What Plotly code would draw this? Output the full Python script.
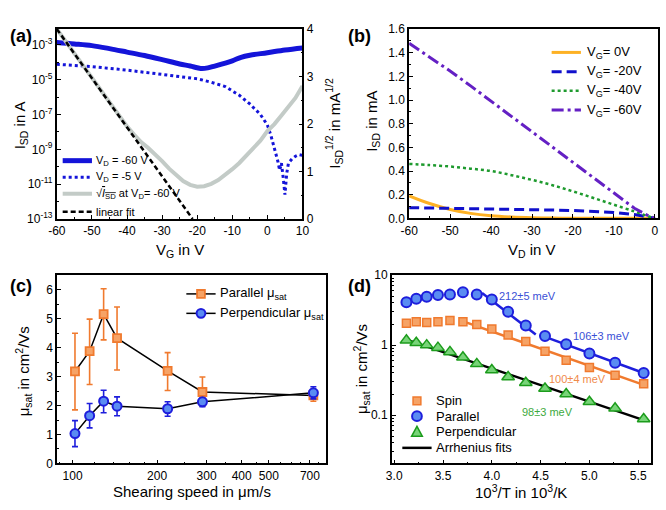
import math
import plotly.graph_objects as go

W, H = 666, 510
FONT = "Liberation Sans, Arial, sans-serif"

# ---------------- (a) transfer curves ----------------
vg_band = [-60, -55, -50, -45, -40, -35, -30, -25, -22, -20, -19, -17, -15, -12, -10, -7.5, -5, 0, 5, 10]
isd_band = [1.35e-3, 1.12e-3, 8.9e-4, 6.0e-4, 3.8e-4, 2.4e-4, 1.4e-4, 7.9e-5, 6.0e-5, 4.8e-5,
            4.4e-5, 4.7e-5, 6.0e-5, 8.9e-5, 1.2e-4, 1.9e-4, 2.5e-4, 3.5e-4, 5.0e-4, 6.6e-4]
vg_dot = [-60, -50, -40, -33, -26, -20, -16, -12, -8, -5, -2, 0, 1, 2, 3, 3.5, 4, 4.5, 5, 5.5, 6, 7, 8, 9, 10]
isd_dot = [7.6e-5, 5.6e-5, 3.5e-5, 2.4e-5, 1.66e-5, 1.12e-5, 7.1e-6, 4.0e-6, 1.26e-6, 4.0e-7, 1.0e-7,
           2.5e-8, 6.3e-9, 1.26e-9, 2.0e-10, 6.3e-11, 1.6e-10, 2.5e-11, 2.5e-12, 4.0e-11, 1.6e-10,
           2.8e-10, 4.0e-10, 5.0e-10, 4.5e-10]
vg_sqrt = [-60, -55, -50, -45, -42, -40, -38, -36, -34, -32, -30, -28, -26, -24, -22, -20, -18, -16,
           -14, -12, -10, -8, -6, -4, -2, 0, 2, 4, 6, 8, 10]
sqrt_isd = [4.0, 3.48, 2.97, 2.45, 2.15, 1.95, 1.78, 1.62, 1.5, 1.37, 1.22, 1.06, 0.92, 0.8, 0.72,
            0.68, 0.69, 0.74, 0.82, 0.93, 1.05, 1.18, 1.33, 1.48, 1.65, 1.85, 2.0, 2.18, 2.35, 2.55, 2.8]
vg_fit = [-60, -21.3]
sqrt_fit = [4.0, 0.0]

# ---------------- (b) output curves ----------------
vd = [-60, -55, -50, -45, -40, -35, -30, -25, -20, -15, -10, -5, -2, 0]
id_vg0 = [0.19, 0.125, 0.075, 0.042, 0.022, 0.011, 0.005, 0.002, 0.001, 0.0005, 0.0003, 0.0001, 0, 0]
id_vg20 = [0.09, 0.088, 0.085, 0.082, 0.079, 0.076, 0.073, 0.07, 0.066, 0.06, 0.05, 0.032, 0.013, 0]
id_vg40 = [0.46, 0.45, 0.438, 0.42, 0.40, 0.365, 0.325, 0.28, 0.228, 0.172, 0.115, 0.058, 0.022, 0]
id_vg60 = [1.48, 1.365, 1.245, 1.12, 0.99, 0.86, 0.73, 0.6, 0.47, 0.34, 0.21, 0.085, 0.03, 0]

# ---------------- (c) mobility vs shearing speed ----------------
speed = [102, 115, 129, 144, 218, 290, 720]
mu_par = [3.18, 3.88, 5.16, 4.33, 3.2, 2.47, 2.35]
mu_par_up = [1.32, 1.11, 0.88, 1.08, 0.63, 0.52, 0.2]
mu_par_dn = [1.33, 1.15, 0.89, 1.1, 0.68, 0.49, 0.2]
mu_perp = [1.03, 1.65, 2.15, 1.98, 1.89, 2.13, 2.44]
mu_perp_up = [0.45, 0.42, 0.38, 0.32, 0.24, 0.14, 0.21]
mu_perp_dn = [0.45, 0.42, 0.4, 0.33, 0.26, 0.17, 0.21]

# ---------------- (d) Arrhenius ----------------
inv_t = [3.125, 3.226, 3.333, 3.448, 3.571, 3.704, 3.846, 4.0, 4.167, 4.348, 4.545, 4.762, 5.0, 5.263, 5.556]
mu_spin = [2.05, 2.15, 2.1, 2.15, 2.25, 2.15, 1.97, 1.7, 1.4, 1.13, 0.82, 0.61, 0.48, 0.37, 0.28]
mu_parT = [4.1, 4.6, 4.9, 5.2, 5.3, 5.7, 5.3, 4.5, 3.0, 1.9, 1.35, 1.03, 0.76, 0.56, 0.40]
mu_perpT = [1.17, 1.08, 1.0, 0.92, 0.8, 0.67, 0.54, 0.44, 0.35, 0.29, 0.24, 0.2, 0.155, 0.125, 0.088]
fit_par1_x, fit_par1_y = [3.90, 4.45], [5.55, 1.42]
fit_par2_x, fit_par2_y = [4.49, 5.556], [1.40, 0.40]
fit_spin_x, fit_spin_y = [3.70, 5.556], [2.2, 0.27]
fit_perp_x, fit_perp_y = [3.125, 5.556], [1.2, 0.085]
ea_labels = ["212±5 meV", "106±3 meV", "100±4 meV", "98±3 meV"]
ea_x = [4.37, 5.12, 4.88, 4.57]
ea_y = [5.0, 1.35, 0.332, 0.111]

BLUE = "#1414D9"
GRAY = "#C3CBC7"
ORANGE_B = "#FDB124"
BLUE_B = "#1010CC"
GREEN_B = "#1E9A2E"
PURPLE_B = "#6420C4"
OR = "#F07A2E"
OR_FILL = "#F6A366"
BL_EDGE = "#1E1EDC"
BL_FILL = "#5A8CF2"
GR_EDGE = "#1C9C1C"
GR_FILL = "#78D478"

fig = go.Figure()

# (a)
fig.add_trace(go.Scatter(x=vg_sqrt, y=sqrt_isd, xaxis="x", yaxis="y2", mode="lines",
                         line=dict(color=GRAY, width=4), name="sqrt(I_SD) at V_D=-60 V"))
fig.add_trace(go.Scatter(x=vg_fit, y=sqrt_fit, xaxis="x", yaxis="y2", mode="lines",
                         line=dict(color="black", width=2.5, dash="5px,3px"), name="linear fit"))
fig.add_trace(go.Scatter(x=vg_dot, y=isd_dot, xaxis="x", yaxis="y", mode="lines",
                         line=dict(color=BLUE, width=3, dash="dot"), name="V_D = -5 V"))
fig.add_trace(go.Scatter(x=vg_band, y=isd_band, xaxis="x", yaxis="y", mode="lines",
                         line=dict(color=BLUE, width=5, shape="spline"), name="V_D = -60 V"))

# (b)
fig.add_trace(go.Scatter(x=vd, y=id_vg0, xaxis="x2", yaxis="y3", mode="lines",
                         line=dict(color=ORANGE_B, width=3, shape="spline"), name="V_G = 0V"))
fig.add_trace(go.Scatter(x=vd, y=id_vg20, xaxis="x2", yaxis="y3", mode="lines",
                         line=dict(color=BLUE_B, width=3, dash="10px,5px"), name="V_G = -20V"))
fig.add_trace(go.Scatter(x=vd, y=id_vg40, xaxis="x2", yaxis="y3", mode="lines",
                         line=dict(color=GREEN_B, width=2.5, dash="dot", shape="spline"), name="V_G = -40V"))
fig.add_trace(go.Scatter(x=vd, y=id_vg60, xaxis="x2", yaxis="y3", mode="lines",
                         line=dict(color=PURPLE_B, width=3, dash="12px,4px,3px,4px"), name="V_G = -60V"))

# (c)
fig.add_trace(go.Scatter(x=speed, y=mu_par, xaxis="x3", yaxis="y4", mode="lines+markers",
                         line=dict(color="black", width=1.5),
                         marker=dict(symbol="square", size=8, color=OR_FILL, line=dict(color=OR, width=1.8)),
                         error_y=dict(type="data", array=mu_par_up, arrayminus=mu_par_dn,
                                      color=OR, thickness=1.6, width=3),
                         name="Parallel"))
fig.add_trace(go.Scatter(x=speed, y=mu_perp, xaxis="x3", yaxis="y4", mode="lines+markers",
                         line=dict(color="black", width=1.5),
                         marker=dict(symbol="circle", size=9, color=BL_FILL, line=dict(color=BL_EDGE, width=2)),
                         error_y=dict(type="data", array=mu_perp_up, arrayminus=mu_perp_dn,
                                      color=BL_EDGE, thickness=1.6, width=3),
                         name="Perpendicular"))

# (d)
for fx, fy, c in [(fit_par1_x, fit_par1_y, BL_EDGE), (fit_par2_x, fit_par2_y, BL_EDGE),
                  (fit_spin_x, fit_spin_y, OR), (fit_perp_x, fit_perp_y, "black")]:
    fig.add_trace(go.Scatter(x=fx, y=fy, xaxis="x4", yaxis="y5", mode="lines",
                             line=dict(color=c, width=2.5), name="Arrhenius fit"))
fig.add_trace(go.Scatter(x=inv_t, y=mu_spin, xaxis="x4", yaxis="y5", mode="markers",
                         marker=dict(symbol="square", size=8, color=OR_FILL, line=dict(color=OR, width=1.5)),
                         name="Spin"))
fig.add_trace(go.Scatter(x=inv_t, y=mu_parT, xaxis="x4", yaxis="y5", mode="markers",
                         marker=dict(symbol="circle", size=10, color=BL_FILL, line=dict(color=BL_EDGE, width=2)),
                         name="Parallel"))
fig.add_trace(go.Scatter(x=inv_t, y=mu_perpT, xaxis="x4", yaxis="y5", mode="markers",
                         marker=dict(symbol="triangle-up", size=11, color=GR_FILL, line=dict(color=GR_EDGE, width=1.5)),
                         name="Perpendicular"))


def px_x(p):
    return p / W


def px_y(p):
    return 1 - p / H


tickfont = dict(family=FONT, size=12, color="black")
ax_common = dict(showline=True, linecolor="black", linewidth=1.8, ticks="inside", ticklen=4,
                 tickwidth=1.3, tickcolor="black", showgrid=False, zeroline=False, tickfont=tickfont)

decades_a = [1e-13, 1e-11, 1e-9, 1e-7, 1e-5, 1e-3]
decades_a_txt = ["10<sup>-13</sup>", "10<sup>-11</sup>", "10<sup>-9</sup>", "10<sup>-7</sup>",
                 "10<sup>-5</sup>", "10<sup>-3</sup>"]
minor_a = [1e-12, 1e-10, 1e-8, 1e-6, 1e-4]

layout = dict(
    width=W, height=H, margin=dict(l=0, r=0, t=0, b=0),
    paper_bgcolor="white", plot_bgcolor="white", showlegend=False,
    font=dict(family=FONT, size=12, color="black"),
    xaxis=dict(ax_common, domain=[px_x(49), px_x(300.7)], range=[-60, 10], anchor="y",
               mirror=True, tickvals=[-60, -50, -40, -30, -20, -10, 0, 10],
               ticktext=["-60", "-50", "-40", "-30", "-20", "-10", "0", "10"],
               minor=dict(ticks="inside", ticklen=2, dtick=5, tickcolor="black")),
    yaxis=dict(ax_common, domain=[px_y(218), px_y(22.7)], type="log", range=[-13, -2.1], anchor="x",
               mirror=True, tickvals=decades_a, ticktext=decades_a_txt,
               minor=dict(ticks="inside", ticklen=2, tickvals=minor_a, tickcolor="black")),
    yaxis2=dict(ax_common, overlaying="y", side="right", anchor="x", range=[0, 4],
                tickvals=[0, 1, 2, 3, 4], minor=dict(ticks="inside", ticklen=2, dtick=0.5, tickcolor="black")),
    xaxis2=dict(ax_common, domain=[px_x(410), px_x(664.5)], range=[-60, 0.65], anchor="y3",
                mirror=True, tickvals=[-60, -50, -40, -30, -20, -10, 0],
                ticktext=["-60", "-50", "-40", "-30", "-20", "-10", "0"],
                minor=dict(ticks="inside", ticklen=2, dtick=5, tickcolor="black")),
    yaxis3=dict(ax_common, domain=[px_y(217.3), px_y(22.7)], range=[0, 1.6], anchor="x2",
                mirror=True, dtick=0.2, tickformat=".1f",
                minor=dict(ticks="inside", ticklen=2, dtick=0.1, tickcolor="black")),
    xaxis3=dict(ax_common, domain=[px_x(49.3), px_x(325)], type="log", range=[1.945, 2.903],
                anchor="y4", mirror=True, tickvals=[100, 200, 300, 400, 500, 700],
                minor=dict(ticks="inside", ticklen=2, tickcolor="black",
                           tickvals=[90, 120, 140, 160, 180, 250, 350, 450, 550, 600, 650, 750, 800])),
    yaxis4=dict(ax_common, domain=[px_y(469.3), px_y(276)], range=[0, 6.5], anchor="x3",
                mirror=True, dtick=1, minor=dict(ticks="inside", ticklen=2, dtick=0.5, tickcolor="black")),
    xaxis4=dict(ax_common, domain=[px_x(392.3), px_x(658)], range=[2.976, 5.633], anchor="y5",
                mirror=True, tickvals=[3.0, 3.5, 4.0, 4.5, 5.0, 5.5], tickformat=".1f",
                minor=dict(ticks="inside", ticklen=2, dtick=0.25, tickcolor="black")),
    yaxis5=dict(ax_common, domain=[px_y(469.3), px_y(275.7)], type="log", range=[-1.69, 1],
                anchor="x4", mirror=True, tickvals=[0.1, 1, 10], ticktext=["0.1", "1", "10"],
                minor=dict(ticks="inside", ticklen=2, tickcolor="black",
                           tickvals=[0.03, 0.04, 0.05, 0.06, 0.07, 0.08, 0.09, 0.2, 0.3, 0.4, 0.5,
                                     0.6, 0.7, 0.8, 0.9, 2, 3, 4, 5, 6, 7, 8, 9])),
)
fig.update_layout(**layout)


def add_text(text, x, y, size=15, angle=0, color="black", xanchor="center"):
    fig.add_annotation(text=text, x=px_x(x), y=px_y(y), xref="paper", yref="paper",
                       showarrow=False, textangle=angle, xanchor=xanchor, yanchor="middle",
                       font=dict(family=FONT, size=size, color=color))


# panel letters
for lbl, lx, ly in [("(a)", 12, 30), ("(b)", 359, 30), ("(c)", 12, 287), ("(d)", 359, 287)]:
    add_text("<b>%s</b>" % lbl, lx, ly, size=18)

# axis titles
add_text("I<sub>SD</sub> in A", 12, 122, angle=-90)
add_text("I<sub>SD</sub><sup>1/2</sup> in mA<sup>1/2</sup>", 333, 120, angle=-90)
add_text("V<sub>G</sub> in V", 175, 250)
add_text("I<sub>SD</sub> in mA", 373, 118, angle=-90)
add_text("V<sub>D</sub> in V", 536, 250)
add_text("μ<sub>sat</sub> in cm<sup>2</sup>/Vs", 15, 375, angle=-90)
add_text("Shearing speed in μm/s", 188, 498)
add_text("μ<sub>sat</sub> in cm<sup>2</sup>/Vs", 361, 372, angle=-90)
add_text("10<sup>3</sup>/T in 10<sup>3</sup>/K", 525, 498)

# activation energy labels (data coordinates)
ea_colors = ["#3A4FD6", "#3A4FD6", "#F08A4A", "#3DAA3D"]
for t, xv, yv, c in zip(ea_labels, ea_x, ea_y, ea_colors):
    fig.add_annotation(text=t, x=xv, y=math.log10(yv), xref="x4", yref="y5", showarrow=False,
                       font=dict(family=FONT, size=11, color=c))


# ---------- legends (drawn as keys) ----------
def key_line(x0, x1, y, color, width, dash="solid"):
    fig.add_shape(type="line", xref="paper", yref="paper", x0=px_x(x0), x1=px_x(x1),
                  y0=px_y(y), y1=px_y(y), line=dict(color=color, width=width, dash=dash))


def key_square(xc, yc, s, fill, edge, lw=1.5):
    fig.add_shape(type="rect", xref="paper", yref="paper", x0=px_x(xc - s / 2), x1=px_x(xc + s / 2),
                  y0=px_y(yc + s / 2), y1=px_y(yc - s / 2), fillcolor=fill, line=dict(color=edge, width=lw))


def key_circle(xc, yc, s, fill, edge, lw=2):
    fig.add_shape(type="circle", xref="paper", yref="paper", x0=px_x(xc - s / 2), x1=px_x(xc + s / 2),
                  y0=px_y(yc + s / 2), y1=px_y(yc - s / 2), fillcolor=fill, line=dict(color=edge, width=lw))


def key_triangle(xc, yc, s, fill, edge, lw=1.5):
    p = "M %f,%f L %f,%f L %f,%f Z" % (px_x(xc - s / 2), px_y(yc + s * 0.43),
                                       px_x(xc + s / 2), px_y(yc + s * 0.43),
                                       px_x(xc), px_y(yc - s * 0.5))
    fig.add_shape(type="path", xref="paper", yref="paper", path=p, fillcolor=fill,
                  line=dict(color=edge, width=lw))


# (a)
leg_a = [("V<sub>D</sub> = -60 V", BLUE, 5, "solid"),
         ("V<sub>D</sub> = -5 V", BLUE, 3, "dot"),
         ("√<span style='text-decoration:overline'><i>I</i><sub>SD</sub></span> at V<sub>D</sub>= -60 V", GRAY, 4, "solid"),
         ("linear fit", "black", 2.5, "5px,3px")]
for (t, c, w, d), yy in zip(leg_a, [158, 175, 192, 210.5]):
    key_line(55, 85, yy, c, w, d)
    add_text(t, 87, yy, size=11, xanchor="left")

# (b)
leg_b = [("V<sub>G</sub>= 0V", ORANGE_B, 3, "solid"),
         ("V<sub>G</sub>= -20V", BLUE_B, 3, "10px,5px"),
         ("V<sub>G</sub>= -40V", GREEN_B, 2.5, "dot"),
         ("V<sub>G</sub>= -60V", PURPLE_B, 3, "12px,4px,3px,4px")]
for (t, c, w, d), yy in zip(leg_b, [46.7, 66.7, 86.2, 106]):
    key_line(556, 586, yy, c, w, d)
    add_text(t, 590, yy, size=13, xanchor="left")

# (c)
key_line(181.7, 211.7, 295, "black", 1.5)
key_square(196.7, 295, 8, OR_FILL, OR, 1.8)
add_text("Parallel μ<sub>sat</sub>", 214, 295, size=13, xanchor="left")
key_line(181.7, 211.7, 315, "black", 1.5)
key_circle(196.7, 315, 9, BL_FILL, BL_EDGE, 2)
add_text("Perpendicular μ<sub>sat</sub>", 214, 315, size=13, xanchor="left")

# (d)
key_square(418, 405, 8, OR_FILL, OR, 1.5)
add_text("Spin", 435, 405, size=13, xanchor="left")
key_circle(418, 420.7, 10, BL_FILL, BL_EDGE, 2)
add_text("Parallel", 435, 420.7, size=13, xanchor="left")
key_triangle(418, 436.7, 11, GR_FILL, GR_EDGE, 1.5)
add_text("Perpendicular", 435, 436.7, size=13, xanchor="left")
key_line(403, 433, 453.3, "black", 2.5)
add_text("Arrhenius fits", 435, 453.3, size=13, xanchor="left")

fig.write_html("out.html", config={"displayModeBar": False},
               post_script="document.body.style.margin='0';document.body.style.overflow='hidden';")
